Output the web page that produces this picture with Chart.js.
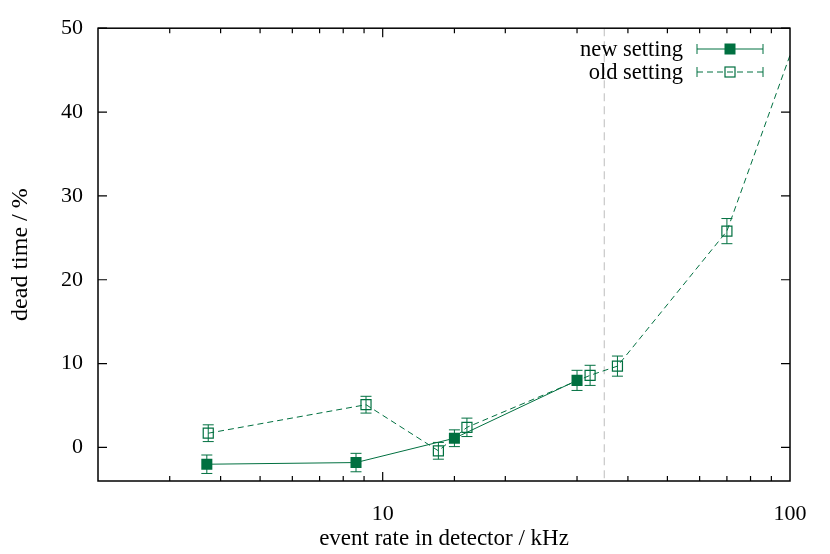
<!DOCTYPE html>
<html>
<head>
<meta charset="utf-8">
<script src="https://cdn.jsdelivr.net/npm/chart.js@4"></script>
<style>
  html, body { margin: 0; padding: 0; background: #fff; }
  #wrap { width: 830px; height: 554px; }
</style>
</head>
<body>
<div id="wrap"><canvas id="deadChart" width="830" height="554"></canvas></div>
<script>
// datos
const newRate = [3.7, 8.6, 15.0, 30.0];
const newDead = [-2.0, -1.8, 1.1, 8.0];
const newErr = [1.1, 1.1, 1.0, 1.2];

const oldRate = [3.73, 9.1, 13.7, 16.1, 32.3, 37.7, 70.0, 120];
const oldDead = [1.7, 5.1, -0.4, 2.4, 8.6, 9.7, 25.8, 57.5];
const oldErr = [1.0, 1.0, 1.0, 1.1, 1.2, 1.2, 1.5, 2.0];

const xTickLabels = [10, 100];
const yTicks = [0, 10, 20, 30, 40, 50];
const markerRate = 35;

const seriesNames = ['new setting', 'old setting'];

const green = '#007040';
const fontName = "'Liberation Serif', 'DejaVu Serif', serif";

function toPoints(xs, ys) {
  return xs.map((x, i) => ({ x: x, y: ys[i] }));
}

// marco, marcas, linea vertical, barras de error y leyenda
const gnuplotLook = {
  id: 'gnuplotLook',
  beforeDatasetsDraw(chart) {
    const { ctx, chartArea: a, scales: { x, y } } = chart;
    ctx.save();
    // linea vertical gris
    const vx = x.getPixelForValue(markerRate);
    ctx.strokeStyle = '#c8c8c8';
    ctx.lineWidth = 1.2;
    ctx.setLineDash([8, 5]);
    ctx.beginPath();
    ctx.moveTo(vx, a.top);
    ctx.lineTo(vx, a.bottom);
    ctx.stroke();
    ctx.setLineDash([]);

    // barras de error
    ctx.beginPath();
    ctx.rect(a.left, a.top, a.right - a.left, a.bottom - a.top);
    ctx.clip();
    const drawErr = (xs, ys, es) => {
      xs.forEach((v, i) => {
        const px = x.getPixelForValue(v);
        const t = y.getPixelForValue(ys[i] + es[i]);
        const b = y.getPixelForValue(ys[i] - es[i]);
        ctx.beginPath();
        ctx.moveTo(px, t); ctx.lineTo(px, b);
        ctx.moveTo(px - 5.5, t); ctx.lineTo(px + 5.5, t);
        ctx.moveTo(px - 5.5, b); ctx.lineTo(px + 5.5, b);
        ctx.stroke();
      });
    };
    ctx.strokeStyle = green;
    ctx.lineWidth = 1;
    drawErr(newRate, newDead, newErr);
    drawErr(oldRate, oldDead, oldErr);
    ctx.restore();
  },
  afterDraw(chart) {
    const { ctx, chartArea: a, scales: { x, y } } = chart;
    ctx.save();
    ctx.strokeStyle = '#000';
    ctx.lineWidth = 1.5;
    ctx.strokeRect(a.left, a.top, a.right - a.left, a.bottom - a.top);

    ctx.lineWidth = 1.2;
    ctx.beginPath();
    y.ticks.forEach(t => {
      const py = y.getPixelForValue(t.value);
      ctx.moveTo(a.left, py); ctx.lineTo(a.left + 9, py);
      ctx.moveTo(a.right, py); ctx.lineTo(a.right - 9, py);
    });
    x.ticks.forEach(t => {
      if (t.value <= x.min || t.value >= x.max) return;
      const px = x.getPixelForValue(t.value);
      const len = xTickLabels.includes(t.value) ? 9 : 5;
      ctx.moveTo(px, a.bottom); ctx.lineTo(px, a.bottom - len);
      ctx.moveTo(px, a.top); ctx.lineTo(px, a.top + len);
    });
    ctx.stroke();

    // leyenda
    ctx.font = '22.5px ' + fontName;
    ctx.fillStyle = '#000';
    ctx.textAlign = 'right';
    ctx.textBaseline = 'middle';
    const rows = [49, 72];
    const x0 = 697, x1 = 763, xm = 730;
    rows.forEach((ry, i) => {
      ctx.fillText(seriesNames[i], 683, ry + 1);
      ctx.strokeStyle = green;
      ctx.lineWidth = 1;
      ctx.setLineDash(i === 0 ? [] : [6, 4]);
      ctx.beginPath();
      ctx.moveTo(x0, ry); ctx.lineTo(x1, ry);
      ctx.stroke();
      ctx.setLineDash([]);
      ctx.beginPath();
      ctx.moveTo(x0, ry - 5); ctx.lineTo(x0, ry + 5);
      ctx.moveTo(x1, ry - 5); ctx.lineTo(x1, ry + 5);
      ctx.stroke();
      if (i === 0) {
        ctx.fillStyle = green;
        ctx.fillRect(xm - 5.5, ry - 5.5, 11, 11);
        ctx.fillStyle = '#000';
      } else {
        ctx.lineWidth = 1.2;
        ctx.strokeRect(xm - 5, ry - 5, 10, 10);
      }
    });
    ctx.restore();
  }
};

document.addEventListener('DOMContentLoaded', function() {
  const ctx = document.getElementById('deadChart').getContext('2d');

  new Chart(ctx, {
    type: 'scatter',
    data: {
      datasets: [
        {
          label: seriesNames[0],
          data: toPoints(newRate, newDead),
          showLine: true,
          borderColor: green,
          borderWidth: 1,
          pointStyle: 'rect',
          pointRadius: 7.8,
          pointBackgroundColor: green,
          pointBorderColor: green,
          pointBorderWidth: 0
        },
        {
          label: seriesNames[1],
          data: toPoints(oldRate, oldDead),
          showLine: true,
          borderColor: green,
          borderWidth: 1,
          borderDash: [6, 4],
          pointStyle: 'rect',
          pointRadius: 7.1,
          pointBackgroundColor: 'rgba(0,0,0,0)',
          pointBorderColor: green,
          pointBorderWidth: 1.2
        }
      ]
    },
    options: {
      responsive: false,
      animation: false,
      layout: { padding: { top: 28, right: 40, left: 0, bottom: 0 } },
      plugins: {
        legend: { display: false },
        tooltip: { enabled: false }
      },
      scales: {
        x: {
          type: 'logarithmic',
          min: 2,
          max: 100,
          grid: { display: false, drawTicks: false },
          border: { display: false },
          afterFit: function(s) { s.height = 73; },
          ticks: {
            autoSkip: false,
            maxRotation: 0,
            padding: 20,
            color: '#000',
            font: { family: fontName, size: 22 },
            callback: function(value) {
              return xTickLabels.includes(value) ? String(value) : '';
            }
          },
          title: {
            display: true,
            text: 'event rate in detector / kHz',
            color: '#000',
            font: { family: fontName, size: 23 },
            padding: { top: 0, bottom: 1 }
          }
        },
        y: {
          min: -4,
          max: 50,
          grid: { display: false, drawTicks: false },
          border: { display: false },
          afterFit: function(s) { s.width = 98; },
          afterBuildTicks: function(s) {
            s.ticks = yTicks.map(v => ({ value: v }));
          },
          ticks: {
            padding: 15,
            color: '#000',
            font: { family: fontName, size: 22 }
          },
          title: {
            display: true,
            text: 'dead time / %',
            color: '#000',
            font: { family: fontName, size: 24 },
            padding: { top: 6, bottom: 0 }
          }
        }
      }
    },
    plugins: [gnuplotLook]
  });
});
</script>
</body>
</html>
